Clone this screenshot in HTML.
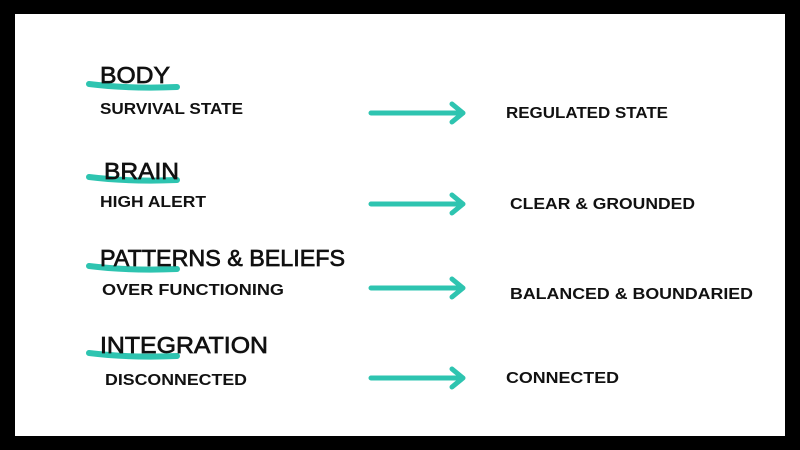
<!DOCTYPE html>
<html><head><meta charset="utf-8"><style>
html,body{margin:0;padding:0;background:#000;}
svg{display:block;}
text{font-family:"Liberation Sans",sans-serif;fill:#111;}
.h{font-size:23px;stroke:#111;stroke-width:0.7px;}
.s{font-size:16px;font-weight:bold;}
</style></head><body>
<svg width="800" height="450" viewBox="0 0 800 450" xmlns="http://www.w3.org/2000/svg">
<rect x="0" y="0" width="800" height="450" fill="#000"/>
<rect x="15" y="14" width="770" height="422" fill="#fff"/>
<g stroke="#2ec4b0" stroke-linecap="round" fill="none">
  <path d="M89 84 Q130 89 177 87" stroke-width="6"/>
  <path d="M89 177 Q130 182 177 180" stroke-width="6"/>
  <path d="M89 266 Q130 271 177 269" stroke-width="6"/>
  <path d="M89 353 Q130 358 177 356" stroke-width="6"/>
</g>
<g stroke="#2ec4b0" stroke-width="5" stroke-linecap="round" stroke-linejoin="round" fill="none">
  <path d="M371 113 H463 M452 104 L463 113 L452 122"/>
  <path d="M371 204 H463 M452 195 L463 204 L452 213"/>
  <path d="M371 288 H463 M452 279 L463 288 L452 297"/>
  <path d="M371 378 H463 M452 369 L463 378 L452 387"/>
</g>
<text class="h" x="100" y="83" textLength="70" lengthAdjust="spacingAndGlyphs">BODY</text>
<text class="s" x="100" y="114" textLength="143" lengthAdjust="spacingAndGlyphs">SURVIVAL STATE</text>
<text class="s" x="506" y="118" textLength="162" lengthAdjust="spacingAndGlyphs">REGULATED STATE</text>

<text class="h" x="104" y="179" textLength="75" lengthAdjust="spacingAndGlyphs">BRAIN</text>
<text class="s" x="100" y="207" textLength="106" lengthAdjust="spacingAndGlyphs">HIGH ALERT</text>
<text class="s" x="510" y="209" textLength="185" lengthAdjust="spacingAndGlyphs">CLEAR &amp; GROUNDED</text>

<text class="h" x="100" y="266" textLength="245" lengthAdjust="spacingAndGlyphs">PATTERNS &amp; BELIEFS</text>
<text class="s" x="102" y="295" textLength="182" lengthAdjust="spacingAndGlyphs">OVER FUNCTIONING</text>
<text class="s" x="510" y="299" textLength="243" lengthAdjust="spacingAndGlyphs">BALANCED &amp; BOUNDARIED</text>

<text class="h" x="100" y="353" textLength="168" lengthAdjust="spacingAndGlyphs">INTEGRATION</text>
<text class="s" x="105" y="385" textLength="142" lengthAdjust="spacingAndGlyphs">DISCONNECTED</text>
<text class="s" x="506" y="383" textLength="113" lengthAdjust="spacingAndGlyphs">CONNECTED</text>
</svg>
</body></html>
